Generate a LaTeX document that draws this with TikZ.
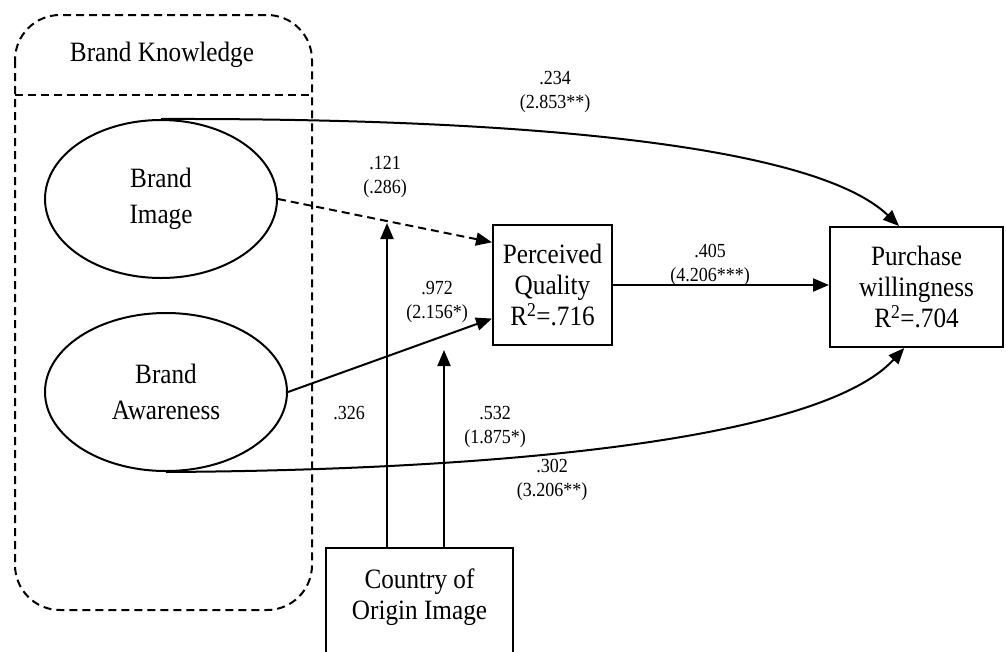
\documentclass[tikz,border=0pt]{standalone}
\usepackage{fontspec}
\setmainfont[FakeStretch=0.9]{Liberation Serif}
\usetikzlibrary{arrows.meta,shapes.geometric,calc}

\begin{document}
\begin{tikzpicture}[x=1pt,y=-1pt,
  line width=2pt,
  tip/.style={-{Triangle[length=16pt,width=13pt]}},
  construct/.style={draw, ellipse, align=center, font=\fontsize{28}{36}\selectfont},
  varbox/.style={draw, rectangle, align=center, font=\fontsize{28}{31}\selectfont},
  coef/.style={align=center, font=\fontsize{20}{24}\selectfont}]
  \useasboundingbox (0,0) rectangle (1006,651);
  \clip (0,0) rectangle (1006,651);

  % Draw brand knowledge group (dashed border)
  \draw[dashed, dash pattern=on 8pt off 5pt, rounded corners=45pt] (15,15) rectangle (312,610);
  \draw[dashed, dash pattern=on 8pt off 5pt] (15,95) -- (312,95);
  \node[font=\fontsize{28}{31}\selectfont] (bk) at (162,55) {Brand Knowledge};

  % Constructs
  \node[construct, minimum width=232pt, minimum height=158pt] (bi) at (161,199) {Brand\\Image};
  \node[construct, minimum width=242pt, minimum height=158pt] (ba) at (166,392) {Brand\\Awareness};
  \node[varbox, minimum width=119pt, minimum height=120pt] (pq) at (552.5,285) {Perceived\\Quality\\R\textsuperscript{2}=.716};
  \node[varbox, minimum width=173pt, minimum height=120pt] (pw) at (916.5,287) {Purchase\\willingness\\R\textsuperscript{2}=.704};
  \node[varbox, minimum width=187pt, minimum height=130pt, anchor=north, text depth=38pt] (coo) at (419.5,547) {Country of\\Origin Image};

  % Paths to perceived quality
  \draw[tip, dashed, dash pattern=on 8pt off 5pt] (bi.east) -- ($(pq.north west)!0.15!(pq.south west)$);
  \draw[tip] (ba.east) -- ($(pq.north west)!0.775!(pq.south west)$);
  \draw[tip] (pq.east) -- (pq.east -| pw.west);

  % Direct paths to purchase willingness
  \draw[tip] (bi.north) .. controls (560,118) and (820,150) .. ($(pw.north west)!0.4!(pw.north east)$);
  \draw[tip] (ba.south) .. controls (500,470) and (820,440) .. ($(pw.south west)!0.43!(pw.south east)$);

  % Moderation by country of origin image
  \coordinate (m1) at (387,223);
  \coordinate (m2) at (444,350);
  \draw[tip] (coo.north -| m1) -- (m1);
  \draw[tip] (coo.north -| m2) -- (m2);

  % Coefficients
  \node[coef] (c234) at (555,92) {.234\\(2.853**)};
  \node[coef] (c121) at (385,177) {.121\\(.286)};
  \node[coef] (c972) at (437,302) {.972\\(2.156*)};
  \node[coef] (c405) at (710,265) {.405\\(4.206***)};
  \node[coef] (c326) at (349,413) {.326};
  \node[coef] (c532) at (495,427) {.532\\(1.875*)};
  \node[coef] (c302) at (552,480) {.302\\(3.206**)};
\end{tikzpicture}
\end{document}
